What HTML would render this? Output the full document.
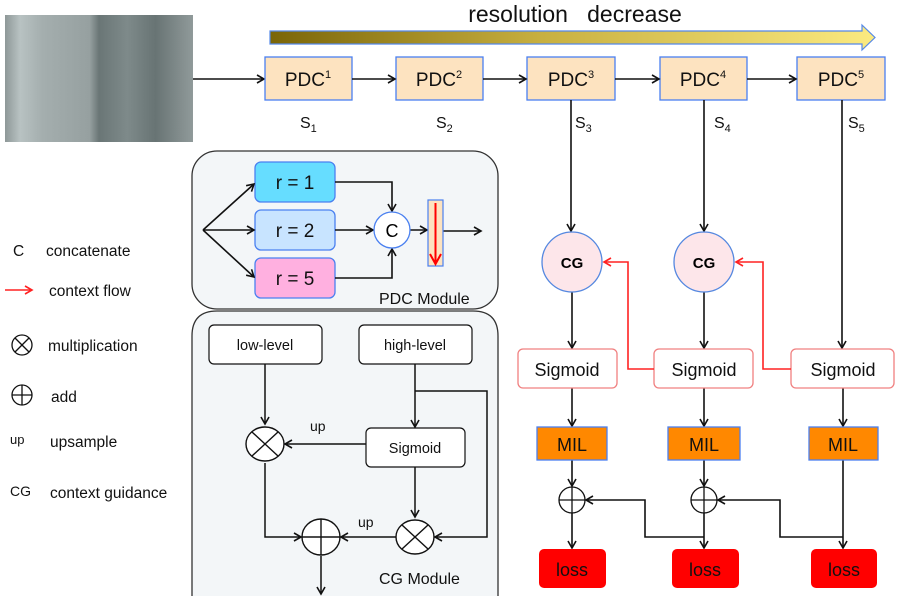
<!DOCTYPE html>
<html><head><style>html,body{margin:0;padding:0;background:#fff}svg{display:block}</style></head><body>
<svg width="900" height="596" viewBox="0 0 900 596" xmlns="http://www.w3.org/2000/svg" font-family="Liberation Sans, sans-serif">
<defs>
<marker id="a" markerWidth="10" markerHeight="10" refX="8" refY="5" orient="auto" markerUnits="userSpaceOnUse"><path d="M1,1 L8,5 L1,9" fill="none" stroke="#111" stroke-width="1.6"/></marker>
<marker id="r" markerWidth="10" markerHeight="10" refX="8" refY="5" orient="auto" markerUnits="userSpaceOnUse"><path d="M1,1 L8,5 L1,9" fill="none" stroke="#f22" stroke-width="1.6"/></marker>
<linearGradient id="g" x1="0" x2="1"><stop offset="0" stop-color="#7a6508"/><stop offset="0.45" stop-color="#c8b040"/><stop offset="1" stop-color="#fbea80"/></linearGradient>
<linearGradient id="img" x1="0" x2="1"><stop offset="0" stop-color="#8e9898"/><stop offset="0.08" stop-color="#b8c2c2"/><stop offset="0.2" stop-color="#a4aeae"/><stop offset="0.45" stop-color="#96a0a0"/><stop offset="0.5" stop-color="#6a7676"/><stop offset="0.65" stop-color="#7e8a8a"/><stop offset="0.8" stop-color="#687474"/><stop offset="1" stop-color="#909a9a"/></linearGradient>
</defs>
<rect x="5" y="15" width="188" height="127" fill="url(#img)"/>
<line x1="193" y1="79" x2="264" y2="79" stroke="#111" stroke-width="1.6" marker-end="url(#a)"/>
<path d="M270,31 L862,31 L862,25 L875,37.5 L862,50 L862,44 L270,44 Z" fill="url(#g)" stroke="#5588e8" stroke-width="1.2"/>
<text x="575" y="22" font-size="23" text-anchor="middle" fill="#111">resolution&#160;&#160; decrease</text>
<g fill="#fde3c0" stroke="#4a80f0" stroke-width="1.3">
<rect x="265" y="57" width="87" height="43"/><rect x="396" y="57" width="87" height="43"/><rect x="527" y="57" width="88" height="43"/><rect x="660" y="57" width="87" height="43"/><rect x="797" y="57" width="88" height="43"/></g>
<g font-size="19" fill="#111" text-anchor="middle">
<text x="308" y="86">PDC<tspan font-size="11" dy="-8">1</tspan></text>
<text x="439" y="86">PDC<tspan font-size="11" dy="-8">2</tspan></text>
<text x="571" y="86">PDC<tspan font-size="11" dy="-8">3</tspan></text>
<text x="703" y="86">PDC<tspan font-size="11" dy="-8">4</tspan></text>
<text x="841" y="86">PDC<tspan font-size="11" dy="-8">5</tspan></text></g>
<g stroke="#111" stroke-width="1.6" fill="none">
<line x1="352" y1="79" x2="395" y2="79" marker-end="url(#a)"/>
<line x1="483" y1="79" x2="526" y2="79" marker-end="url(#a)"/>
<line x1="615" y1="79" x2="659" y2="79" marker-end="url(#a)"/>
<line x1="747" y1="79" x2="796" y2="79" marker-end="url(#a)"/>
<line x1="571" y1="100" x2="571" y2="231" marker-end="url(#a)"/>
<line x1="704" y1="100" x2="704" y2="231" marker-end="url(#a)"/>
<line x1="842" y1="100" x2="842" y2="348" marker-end="url(#a)"/>
<line x1="572" y1="292" x2="572" y2="348" marker-end="url(#a)"/>
<line x1="704" y1="292" x2="704" y2="348" marker-end="url(#a)"/>
<line x1="572" y1="388" x2="572" y2="426" marker-end="url(#a)"/>
<line x1="704" y1="388" x2="704" y2="426" marker-end="url(#a)"/>
<line x1="843" y1="388" x2="843" y2="426" marker-end="url(#a)"/>
<line x1="572" y1="460" x2="572" y2="486" marker-end="url(#a)"/>
<line x1="704" y1="460" x2="704" y2="486" marker-end="url(#a)"/>
<line x1="572" y1="513" x2="572" y2="548" marker-end="url(#a)"/>
<line x1="704" y1="513" x2="704" y2="548" marker-end="url(#a)"/>
<line x1="843" y1="460" x2="843" y2="548" marker-end="url(#a)"/>
<polyline points="704,537 645,537 645,500 586,500" marker-end="url(#a)"/>
<polyline points="843,537 780,537 780,500 718,500" marker-end="url(#a)"/>
</g>
<g font-size="16" fill="#111">
<text x="300" y="128">S<tspan font-size="11" dy="4">1</tspan></text>
<text x="436" y="128">S<tspan font-size="11" dy="4">2</tspan></text>
<text x="575" y="128">S<tspan font-size="11" dy="4">3</tspan></text>
<text x="714" y="128">S<tspan font-size="11" dy="4">4</tspan></text>
<text x="848" y="128">S<tspan font-size="11" dy="4">5</tspan></text></g>
<g fill="#fde6ea" stroke="#5588e0" stroke-width="1.3"><circle cx="572" cy="262" r="30"/><circle cx="704" cy="262" r="30"/></g>
<g font-size="15" font-weight="bold" text-anchor="middle"><text x="572" y="268">CG</text><text x="704" y="268">CG</text></g>
<g fill="#fff" stroke="#f08080" stroke-width="1.3"><rect x="518" y="349" width="99" height="39" rx="5"/><rect x="654" y="349" width="99" height="39" rx="5"/><rect x="791" y="349" width="103" height="39" rx="5"/></g>
<g font-size="18" text-anchor="middle" fill="#111"><text x="567" y="376">Sigmoid</text><text x="704" y="376">Sigmoid</text><text x="843" y="376">Sigmoid</text></g>
<g stroke="#f22" stroke-width="1.6" fill="none">
<polyline points="654,369 628,369 628,262 604,262" marker-end="url(#r)"/>
<polyline points="791,369 763,369 763,262 736,262" marker-end="url(#r)"/></g>
<g fill="#ff8800" stroke="#4a80f0" stroke-width="1.3"><rect x="537" y="427" width="70" height="33"/><rect x="668" y="427" width="72" height="33"/><rect x="809" y="427" width="69" height="33"/></g>
<g font-size="18" text-anchor="middle" fill="#111"><text x="572" y="451">MIL</text><text x="704" y="451">MIL</text><text x="843" y="451">MIL</text></g>
<g fill="#fff" stroke="#111" stroke-width="1.3"><circle cx="572" cy="500" r="13"/><circle cx="704" cy="500" r="13"/></g>
<g stroke="#111" stroke-width="1.3"><line x1="559" y1="500" x2="585" y2="500"/><line x1="572" y1="487" x2="572" y2="513"/><line x1="691" y1="500" x2="717" y2="500"/><line x1="704" y1="487" x2="704" y2="513"/></g>
<g fill="#ff0000"><rect x="539" y="549" width="67" height="39" rx="5"/><rect x="672" y="549" width="67" height="39" rx="5"/><rect x="811" y="549" width="66" height="39" rx="5"/></g>
<g font-size="18" text-anchor="middle" fill="#111"><text x="572" y="576">loss</text><text x="705" y="576">loss</text><text x="844" y="576">loss</text></g>

<rect x="192" y="151" width="306" height="158" rx="25" fill="#f3f6f8" stroke="#333" stroke-width="1.3"/>
<rect x="255" y="162" width="80" height="40" rx="6" fill="#66ddff" stroke="#4a80f0" stroke-width="1.3"/>
<rect x="255" y="210" width="80" height="40" rx="6" fill="#c8e4ff" stroke="#4a80f0" stroke-width="1.3"/>
<rect x="255" y="258" width="80" height="40" rx="6" fill="#ffb0e0" stroke="#4a80f0" stroke-width="1.3"/>
<g font-size="19" text-anchor="middle" fill="#111"><text x="295" y="189">r = 1</text><text x="295" y="237">r = 2</text><text x="295" y="285">r = 5</text></g>
<g stroke="#111" stroke-width="1.6" fill="none">
<line x1="203" y1="230" x2="254" y2="184" marker-end="url(#a)"/>
<line x1="203" y1="230" x2="254" y2="230" marker-end="url(#a)"/>
<line x1="203" y1="230" x2="254" y2="277" marker-end="url(#a)"/>
<polyline points="335,182 392,182 392,211" marker-end="url(#a)"/>
<line x1="335" y1="230" x2="373" y2="230" marker-end="url(#a)"/>
<polyline points="335,278 392,278 392,249" marker-end="url(#a)"/>
<line x1="410" y1="230" x2="427" y2="230" marker-end="url(#a)"/>
<line x1="443" y1="231" x2="481" y2="231" marker-end="url(#a)"/>
</g>
<circle cx="392" cy="230" r="18" fill="#fff" stroke="#4a80f0" stroke-width="1.3"/>
<text x="392" y="237" font-size="18" text-anchor="middle">C</text>
<rect x="428" y="200" width="15" height="66" fill="#fde3c0" stroke="#4a80f0" stroke-width="1.2"/>
<line x1="435.5" y1="203" x2="435.5" y2="262" stroke="#f00" stroke-width="2"/>
<path d="M430,254 L435.5,264 L441,254" fill="none" stroke="#f00" stroke-width="2"/>
<text x="379" y="304" font-size="16" fill="#111">PDC Module</text>

<path d="M192,596 L192,336 Q192,311 217,311 L473,311 Q498,311 498,336 L498,596" fill="#f3f6f8" stroke="#333" stroke-width="1.3"/>
<g fill="#fff" stroke="#111" stroke-width="1.2"><rect x="209" y="325" width="113" height="39" rx="5"/><rect x="359" y="325" width="113" height="39" rx="5"/><rect x="366" y="428" width="99" height="39" rx="5"/></g>
<g font-size="14.5" text-anchor="middle" fill="#111"><text x="265" y="350">low-level</text><text x="415" y="350">high-level</text><text x="415" y="453">Sigmoid</text></g>
<g stroke="#111" stroke-width="1.5" fill="none">
<line x1="265" y1="364" x2="265" y2="424" marker-end="url(#a)"/>
<line x1="415" y1="364" x2="415" y2="427" marker-end="url(#a)"/>
<polyline points="415,391 487,391 487,537 435,537" marker-end="url(#a)"/>
<line x1="415" y1="467" x2="415" y2="517" marker-end="url(#a)"/>
<line x1="366" y1="444" x2="285" y2="444" marker-end="url(#a)"/>
<polyline points="265,463 265,537 301,537" marker-end="url(#a)"/>
<line x1="396" y1="537" x2="341" y2="537" marker-end="url(#a)"/>
<line x1="321" y1="556" x2="321" y2="594" marker-end="url(#a)"/>
</g>
<g fill="#fff" stroke="#111" stroke-width="1.4">
<ellipse cx="265" cy="444" rx="19" ry="17"/><ellipse cx="415" cy="537" rx="19" ry="17"/><ellipse cx="321" cy="537" rx="19" ry="18"/></g>
<g stroke="#111" stroke-width="1.4">
<line x1="252" y1="432" x2="278" y2="456"/><line x1="278" y1="432" x2="252" y2="456"/>
<line x1="402" y1="525" x2="428" y2="549"/><line x1="428" y1="525" x2="402" y2="549"/>
<line x1="302" y1="537" x2="340" y2="537"/><line x1="321" y1="519" x2="321" y2="555"/></g>
<g font-size="14" fill="#111"><text x="310" y="431">up</text><text x="358" y="527">up</text></g>
<text x="379" y="584" font-size="16" fill="#111">CG Module</text>

<g font-size="15.5" fill="#111">
<text x="13" y="256">C</text><text x="46" y="256">concatenate</text>
<text x="49" y="296">context flow</text>
<text x="48" y="351">multiplication</text>
<text x="51" y="402">add</text>
<text x="10" y="444" font-size="13">up</text><text x="50" y="447">upsample</text>
<text x="10" y="496" font-size="14">CG</text><text x="50" y="498">context guidance</text></g>
<line x1="5" y1="290" x2="32" y2="290" stroke="#f22" stroke-width="1.4" marker-end="url(#r)"/>
<g fill="none" stroke="#111" stroke-width="1.3">
<circle cx="22" cy="345" r="10"/><line x1="15" y1="338" x2="29" y2="352"/><line x1="29" y1="338" x2="15" y2="352"/>
<circle cx="22" cy="395" r="10"/><line x1="12" y1="395" x2="32" y2="395"/><line x1="22" y1="385" x2="22" y2="405"/></g>
</svg>
</body></html>
